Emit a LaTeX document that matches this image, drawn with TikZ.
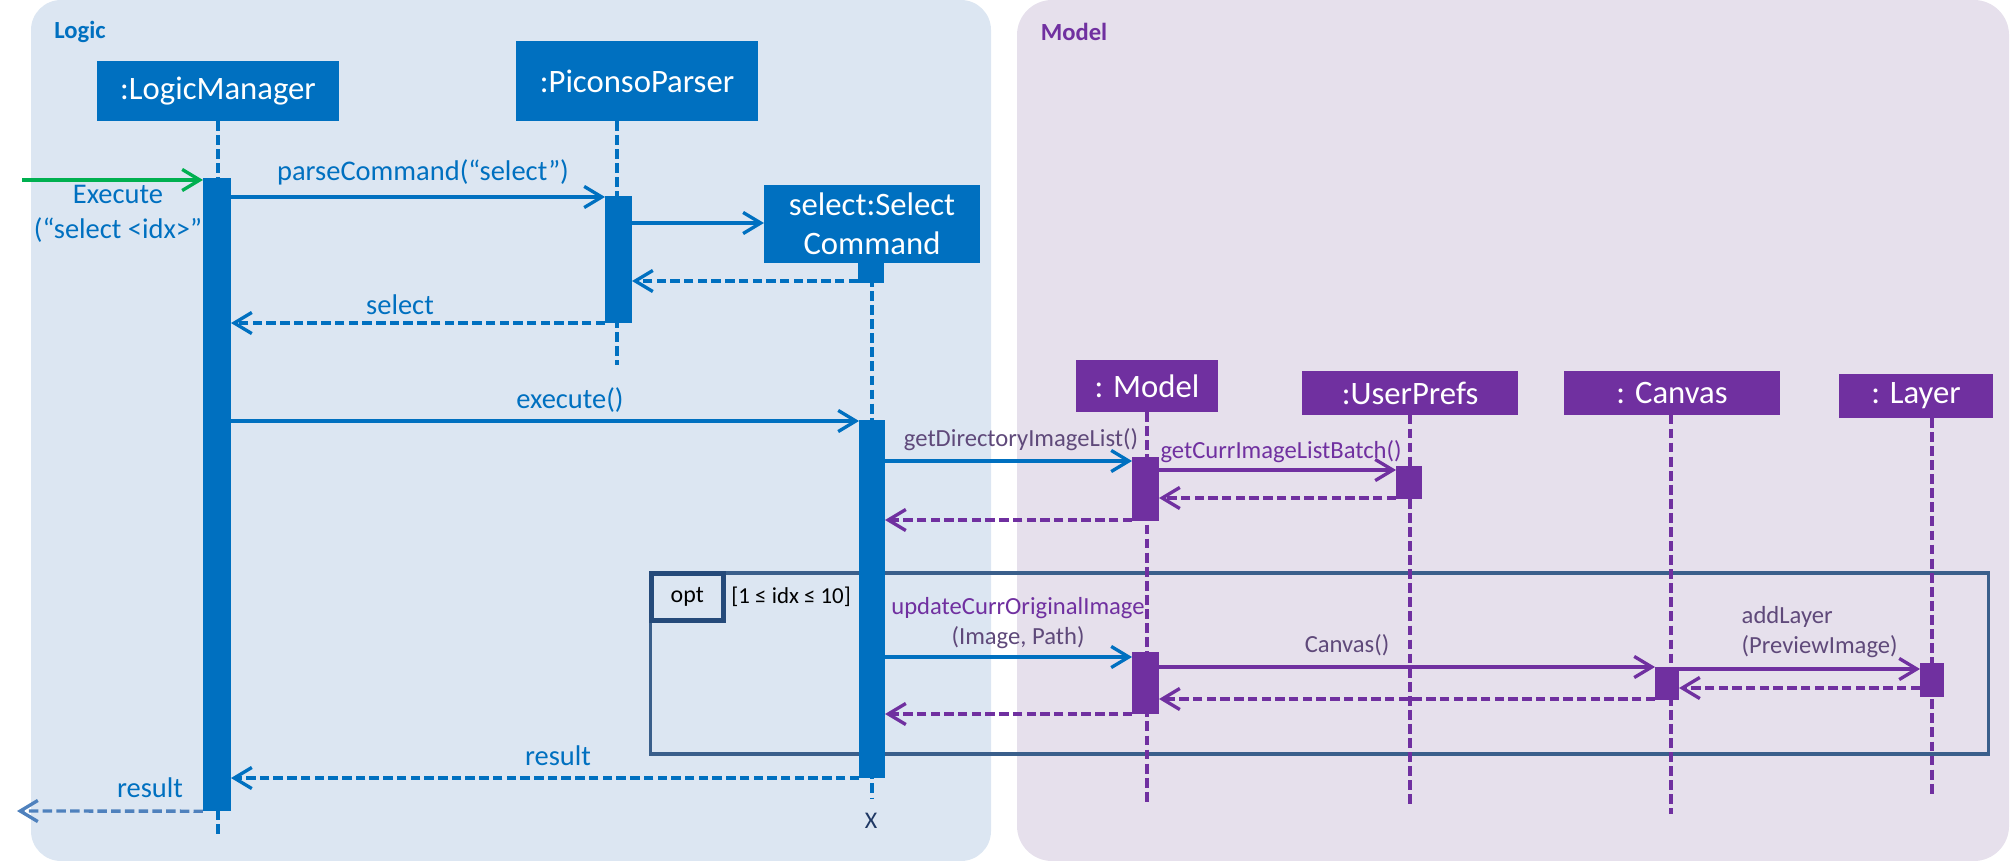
\documentclass[tikz,border=0pt]{standalone}
\usepackage{fontspec}
\setmainfont{Carlito}
\usetikzlibrary{arrows.meta}
\usetikzlibrary{positioning}

\definecolor{logicbg}{HTML}{DCE6F2}
\definecolor{modelbg}{HTML}{E6E0EC}
\definecolor{logicblu}{HTML}{0070C0}
\definecolor{modelviola}{HTML}{7030A0}
\definecolor{testoviola}{HTML}{5F497A}
\definecolor{verde}{HTML}{00B050}
\definecolor{cornice}{HTML}{3A5F8B}
\definecolor{cornicescura}{HTML}{254A7A}
\definecolor{ritorno}{HTML}{4F81BD}
\definecolor{croce}{HTML}{1F3864}

\tikzset{
  oggetto/.style={fill=#1, text=white, inner sep=0pt, outer sep=0pt,
    font=\fontsize{9.3}{11}\selectfont, align=center},
  attiva/.style={fill=#1, inner sep=0pt, outer sep=0pt, minimum width=0.27cm},
  vita/.style={draw=#1, line width=0.9pt, dash pattern=on 2.8pt off 1.2pt},
  chiamata/.style={draw=#1, line width=0.95pt,
    -{Straight Barb[length=5pt,width=6pt]}},
  risposta/.style={chiamata=#1, dash pattern=on 2.7pt off 1.2pt},
  msg/.style={font=\fontsize{8.1}{10}\selectfont, text=logicblu, inner sep=0pt},
  msgmodel/.style={font=\fontsize{7}{8.5}\selectfont, text=testoviola, inner sep=0pt},
  titolo/.style={font=\fontsize{7}{8}\selectfont\bfseries, inner sep=0pt},
  guardia/.style={font=\fontsize{6.5}{8}\selectfont, inner sep=0pt},
  croce/.style={font=\fontsize{6.8}{8}\selectfont, text=croce, inner sep=0pt}
}

\begin{document}
\begin{tikzpicture}[x=0.01cm, y=-0.01cm]
\useasboundingbox (0,0) rectangle (2010,861);

% sfondi
\fill[logicbg, rounded corners=0.3cm] (31,0) rectangle (991,861);
\fill[modelbg, rounded corners=0.35cm] (1017,0) rectangle (2009,861);
\node[titolo, text=logicblu] (tLogic) at (80,32) {Logic};
\node[titolo, text=modelviola] (tModel) at (1074,32) {Model};

% oggetti
\node[oggetto=logicblu, minimum width=2.42cm, minimum height=0.6cm] (lm) at (218,91) {:LogicManager};
\node[oggetto=logicblu, minimum width=2.42cm, minimum height=0.8cm] (pp) at (637,81) {:PiconsoParser};
\node[oggetto=logicblu, minimum width=2.16cm, minimum height=0.78cm] (sc) at (872,224) {select:Select\\Command};
\node[oggetto=modelviola, minimum width=1.41cm, minimum height=0.52cm] (md) at (1147,386) {: Model};
\node[oggetto=modelviola, minimum width=2.15cm, minimum height=0.43cm] (up) at (1410,393) {:UserPrefs};
\node[oggetto=modelviola, minimum width=2.15cm, minimum height=0.43cm] (cv) at (1672,393) {: Canvas};
\node[oggetto=modelviola, minimum width=1.53cm, minimum height=0.44cm] (ly) at (1916,396) {: Layer};

% cornice opt
\node[draw=cornice, line width=1.05pt, inner sep=0pt, minimum width=13.37cm, minimum height=1.81cm] (opt) at (1319.5,663.5) {};
\node[draw=cornicescura, line width=1.4pt, anchor=north west, inner sep=0pt,
  minimum width=0.72cm, minimum height=0.47cm, font=\fontsize{6.8}{8}\selectfont] (optLbl) at (opt.north west) {opt};
\node[guardia, right=0.05cm of optLbl] (guard) {[1 ≤ idx ≤ 10]};

% linee di vita
\coordinate (fine-lm) at (218,835);
\coordinate (fine-pp) at (617,365);
\coordinate (fine-sc) at (872,798);
\coordinate (fine-md) at (1147,805);
\coordinate (fine-up) at (1410,805);
\coordinate (fine-cv) at (1671,814);
\coordinate (fine-ly) at (1932,795);
\foreach \o in {lm, pp, sc} {
    \draw[vita=logicblu] (\o.south -| fine-\o) -- (fine-\o);
}
\foreach \o in {md, up, cv, ly} {
    \draw[vita=modelviola] (\o.south -| fine-\o) -- (fine-\o);
}
\node[croce] (scX) at (871,821) {X};

% attivazioni
\node[attiva=logicblu, minimum width=0.28cm, minimum height=6.33cm] (lmAct) at (217,494.5) {};
\node[attiva=logicblu, minimum height=1.27cm] (ppAct) at (618.5,259.5) {};
\node[attiva=logicblu, minimum width=0.26cm, minimum height=0.2cm] (scAct0) at (871,273) {};
\node[attiva=logicblu, minimum width=0.26cm, minimum height=3.58cm] (scAct) at (872,599) {};
\node[attiva=modelviola, minimum height=0.64cm] (mdAct1) at (1145.5,489) {};
\node[attiva=modelviola, minimum width=0.26cm, minimum height=0.33cm] (upAct) at (1409,482.5) {};
\node[attiva=modelviola, minimum height=0.62cm] (mdAct2) at (1145.5,683) {};
\node[attiva=modelviola, minimum width=0.24cm, minimum height=0.33cm] (cvAct) at (1667,683.5) {};
\node[attiva=modelviola, minimum width=0.24cm, minimum height=0.34cm] (lyAct) at (1932,680) {};

% messaggi logic
\coordinate (ingresso) at (22,180);
\draw[chiamata=verde] (ingresso) -- (lmAct.west |- ingresso);
\node[msg, align=center] (lblExec) at (118,214) {Execute\\(“select <idx>”};
\draw[chiamata=logicblu] (lmAct.east |- 0,197) -- (ppAct.west |- 0,197);
\node[msg] (lblParse) at (423,172) {parseCommand(“select”)};
\draw[chiamata=logicblu] (ppAct.east |- 0,223) -- (sc.west |- 0,223);
\draw[risposta=logicblu] (scAct0.west |- 0,281) -- (ppAct.east |- 0,281);
\draw[risposta=logicblu] (ppAct.south west) -- (lmAct.east |- ppAct.south);
\node[msg] (lblSelect) at (400,305) {select};
\draw[chiamata=logicblu] (lmAct.east |- 0,421) -- (scAct.west |- 0,421);
\node[msg] (lblExecute) at (570,400) {execute()};

% messaggi model
\draw[chiamata=logicblu] (scAct.east |- 0,461) -- (mdAct1.west |- 0,461);
\node[msgmodel] (lblDir) at (1021,440) {getDirectoryImageList()};
\draw[chiamata=modelviola] (mdAct1.east |- 0,470) -- (upAct.west |- 0,470);
\node[msgmodel, text=modelviola] (lblBatch) at (1281,452) {getCurrImageListBatch()};
\draw[risposta=modelviola] (upAct.west |- 0,498) -- (mdAct1.east |- 0,498);
\draw[risposta=modelviola] (mdAct1.west |- 0,520) -- (scAct.east |- 0,520);

% dentro opt
\draw[chiamata=logicblu] (scAct.east |- 0,657) -- (mdAct2.west |- 0,657);
\node[msgmodel, align=center] (lblUpdate) at (1018,623) {\textcolor{modelviola}{updateCurrOriginalImage}\\(Image, Path)};
\draw[chiamata=modelviola] (mdAct2.east |- 0,667) -- (cvAct.west |- 0,667);
\node[msgmodel] (lblCanvas) at (1347,645) {Canvas()};
\draw[chiamata=modelviola] (cvAct.east |- 0,669) -- (lyAct.west |- 0,669);
\node[msgmodel, align=left, anchor=west] (lblLayer) at (1741,632) {addLayer\\(PreviewImage)};
\draw[risposta=modelviola] (lyAct.west |- 0,688) -- (cvAct.east |- 0,688);
\draw[risposta=modelviola] (cvAct.west |- 0,699) -- (mdAct2.east |- 0,699);
\draw[risposta=modelviola] (mdAct2.west |- 0,714) -- (scAct.east |- 0,714);

% risultati
\draw[risposta=logicblu] (scAct.west |- 0,778) -- (lmAct.east |- 0,778);
\node[msg] (lblRis1) at (558,756) {result};
\coordinate (uscita) at (17,811);
\draw[risposta=ritorno] (lmAct.south west) -- (uscita);
\node[msg] (lblRis2) at (150,788) {result};
\end{tikzpicture}
\end{document}
